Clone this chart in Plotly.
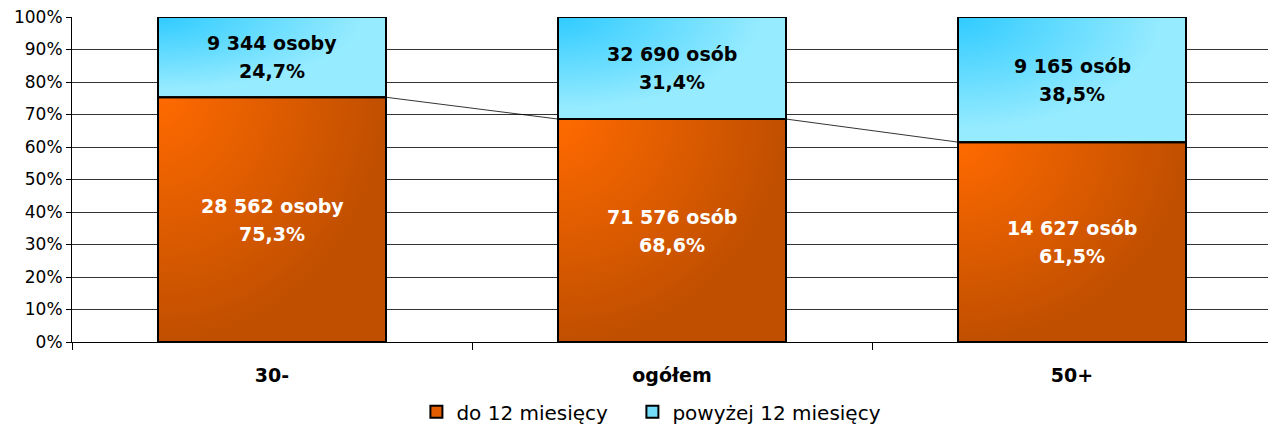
import base64
import plotly.graph_objects as go

categories = ["30-", "ogółem", "50+"]
series_names = ["do 12 miesięcy", "powyżej 12 miesięcy"]
counts_short = ["28 562 osoby", "71 576 osób", "14 627 osób"]
counts_long = ["9 344 osoby", "32 690 osób", "9 165 osób"]
pct_short = [75.3, 68.6, 61.5]
pct_long = [24.7, 31.4, 38.5]
y_ticks = [0, 10, 20, 30, 40, 50, 60, 70, 80, 90, 100]

FONT = "DejaVu Sans"
bar_w = 0.57
xpos = list(range(len(categories)))


def fmt(p):
    return f"{p:.1f}".replace(".", ",") + "%"


def grad_uri(c0, c1, r):
    svg = (
        '<svg xmlns="http://www.w3.org/2000/svg" width="200" height="200" '
        'preserveAspectRatio="none" viewBox="0 0 200 200">'
        f'<defs><radialGradient id="g" cx="0" cy="0" r="{r}">'
        f'<stop offset="0" stop-color="{c0}"/><stop offset="1" stop-color="{c1}"/>'
        '</radialGradient></defs><rect width="200" height="200" fill="url(#g)"/></svg>'
    )
    return "data:image/svg+xml;base64," + base64.b64encode(svg.encode()).decode()


ORANGE_URI = grad_uri("#FF6A00", "#C04F00", 1.0)
BLUE_URI = grad_uri("#2FCBFF", "#96EBFF", 0.9)

fig = go.Figure()
fig.add_trace(go.Bar(
    x=xpos, y=pct_short, width=bar_w, name=series_names[0],
    marker=dict(color="#E35C00", line=dict(color="black", width=2)),
    hoverinfo="skip", cliponaxis=False, legend="legend",
))
fig.add_trace(go.Bar(
    x=xpos, y=pct_long, width=bar_w, name=series_names[1],
    marker=dict(color="#74DDFA", line=dict(color="black", width=2)),
    hoverinfo="skip", cliponaxis=False, legend="legend2",
))

# series lines connecting tops of the lower segments
for i in range(len(categories) - 1):
    fig.add_trace(go.Scatter(
        x=[xpos[i] + bar_w / 2, xpos[i + 1] - bar_w / 2],
        y=[pct_short[i], pct_short[i + 1]],
        mode="lines", line=dict(color="black", width=0.8),
        showlegend=False, hoverinfo="skip",
    ))

images = []
annotations = []
shapes = []
for i in xpos:
    lo, hi = pct_short[i], pct_long[i]
    x0, x1 = i - bar_w / 2, i + bar_w / 2
    images.append(dict(source=ORANGE_URI, xref="x", yref="y", x=x0, y=lo,
                       sizex=bar_w, sizey=lo, sizing="stretch", layer="above",
                       xanchor="left", yanchor="top"))
    images.append(dict(source=BLUE_URI, xref="x", yref="y", x=x0, y=lo + hi,
                       sizex=bar_w, sizey=hi, sizing="stretch", layer="above",
                       xanchor="left", yanchor="top"))
    shapes.append(dict(type="rect", xref="x", yref="y", x0=x0, x1=x1, y0=0, y1=lo,
                       line=dict(color="black", width=2), layer="above"))
    shapes.append(dict(type="rect", xref="x", yref="y", x0=x0, x1=x1, y0=lo, y1=lo + hi,
                       line=dict(color="black", width=2), layer="above"))
    annotations += [
        dict(x=i, y=lo / 2, yshift=14, text=f"<b>{counts_short[i]}</b>",
             font=dict(family=FONT, size=19, color="white")),
        dict(x=i, y=lo / 2, yshift=-14, text=f"<b>{fmt(lo)}</b>",
             font=dict(family=FONT, size=19, color="white")),
        dict(x=i, y=lo + hi / 2, yshift=14, text=f"<b>{counts_long[i]}</b>",
             font=dict(family=FONT, size=19, color="black")),
        dict(x=i, y=lo + hi / 2, yshift=-14, text=f"<b>{fmt(hi)}</b>",
             font=dict(family=FONT, size=19, color="black")),
    ]

for a in annotations:
    a.update(xref="x", yref="y", showarrow=False)

legend_common = dict(orientation="h", xanchor="left", yref="container", y=0.043,
                     yanchor="middle", font=dict(family=FONT, size=20),
                     bgcolor="rgba(0,0,0,0)")

fig.update_layout(
    barmode="stack",
    width=1268, height=422,
    margin=dict(l=64, r=4, t=9, b=88),
    plot_bgcolor="white", paper_bgcolor="white",
    font=dict(family=FONT, size=17, color="black"),
    images=images,
    shapes=shapes,
    annotations=annotations,
    legend=dict(x=0.287, **legend_common),
    legend2=dict(x=0.467, **legend_common),
    xaxis=dict(
        range=[-0.5, 2.5], tickvals=xpos, ticktext=[f"<b>{c}</b>" for c in categories],
        tickfont=dict(family=FONT, size=19),
        showline=True, linecolor="black", linewidth=1, ticks="",
        ticklabelstandoff=16, automargin=False, ticklabeloverflow="allow",
        showgrid=False, zeroline=False,
        minor=dict(tickmode="array", tickvals=[-0.5, 0.5, 1.5, 2.5],
                   ticks="outside", ticklen=7, tickcolor="black", showgrid=False),
    ),
    yaxis=dict(
        range=[0, 100], tickvals=y_ticks, ticktext=[f"{v}%" for v in y_ticks],
        showline=True, linecolor="black", linewidth=1, automargin=False,
        ticklabeloverflow="allow",
        ticks="outside", ticklen=5, tickcolor="black",
        showgrid=True, gridcolor="#333333", gridwidth=1, zeroline=False,
        tickfont=dict(family=FONT, size=17),
    ),
)

fig.write_html("out.html")
